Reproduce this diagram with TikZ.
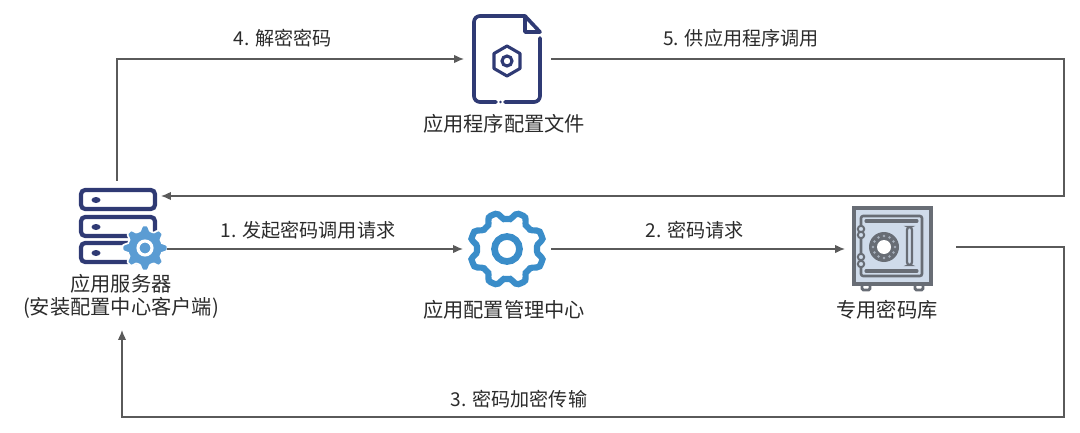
\documentclass[tikz,border=0pt]{standalone}
\usepackage{fontspec}
\setmainfont{Noto Sans CJK SC}
\usepackage{xcolor}
\usetikzlibrary{arrows.meta,calc}
\definecolor{navyicon}{HTML}{2F3A74}
\definecolor{bluecog}{HTML}{3A8DC9}
\definecolor{lightcog}{HTML}{5B9CD3}
\definecolor{safeline}{HTML}{686D75}
\definecolor{safefill}{HTML}{CFDBEA}
\definecolor{wireline}{HTML}{5A5A5A}
\definecolor{labeltext}{HTML}{2B2B2B}
\tikzset{
  wire/.style = {draw=wireline, line width=1pt, -{Latex[length=7pt,width=6pt]}},
  label/.style = {text=labeltext, font=\fontsize{13.6}{16}\selectfont, inner sep=0pt},
  caption/.style = {text=labeltext, font=\fontsize{14.4}{16.5}\selectfont, inner sep=0pt, align=center},
  iconbox/.style = {inner sep=0pt, draw=none},
  pics/bars/.style = {
    code = {
    \foreach \y in {0,27,53}{
      \draw[navyicon, line width=3pt, rounded corners=3pt] (0,\y) rectangle (74,\y+19);
      \fill[navyicon] (15,\y+10) ellipse (4.5 and 3);
    }
    }
  },
  pics/cog/.style = {
    code = {
    \draw[pic actions] plot[smooth cycle, domain=0:356, samples=90]
      (\x:{33.5+5.8*max(-.6,min(.6,cos(8*\x-180)))});
    }
  },
  pics/smallcog/.style = {
    code = {
    \filldraw[draw=white, fill=lightcog, line width=1.2pt] plot[smooth cycle, domain=0:356, samples=90]
      (\x:{20+4.2*max(-.6,min(.6,cos(8*(\x-90))))});
    \draw[white, line width=2.2pt] (0,0) circle (7);
    }
  }
}
\begin{document}
\begin{tikzpicture}[x=0.025cm,y=-0.025cm]
  \useasboundingbox (0,0) rectangle (1080,433);

  % server
  \node[iconbox, minimum width=2.35cm, minimum height=2.1cm] (server) at (117,223) {};
  \pic at (81,190) {bars};
  \pic at (145,248) {smallcog};
  \node[caption] (serverlabel) at (121,296) {应用服务器\\(安装配置中心客户端)};
  \coordinate (serverin) at (161,196);
  \coordinate (serverout) at (167,249);
  \coordinate (serverback) at (122,330);

  % file
  \node[iconbox, minimum width=1.65cm, minimum height=2.15cm] (file) at (507,59) {};
  \draw[navyicon, line width=2.6pt, line cap=round, line join=round]
    (496,102) -- (480,102) arc[start angle=90, end angle=180, radius=6] -- (474,22)
    arc[start angle=180, end angle=270, radius=6] -- (525,16) -- (540,32) -- (525,32) -- (525,16)
    (540,38) -- (540,96) arc[start angle=0, end angle=90, radius=6] -- (505,102);
  \fill[navyicon] (500.5,102) circle (1.4);
  \draw[navyicon, line width=2.2pt, line join=round]
    (507,46) -- (520,53.5) -- (520,68.5) -- (507,76) -- (494,68.5) -- (494,53.5) -- cycle;
  \draw[navyicon, line width=2.2pt] (507,61) circle (5);
  \node[caption] (filelabel) at (504,124) {应用程序配置文件};

  % config centre
  \node[iconbox, minimum width=2cm, minimum height=2cm] (centre) at (507,249) {};
  \pic[draw=bluecog, line width=4.4pt] at (507,249) {cog};
  \draw[bluecog, line width=4.8pt] (507,249) circle (12.5);
  \node[caption] (centrelabel) at (504,310) {应用配置管理中心};

  % vault
  \node[iconbox, minimum width=2.75cm, minimum height=2.05cm] (vault) at (900,249) {};
  \draw[safeline, line width=2pt, fill=white, rounded corners=1pt] (862,284) -- (862,290) -- (870,290) -- (870,284);
  \draw[safeline, line width=2pt, fill=white, rounded corners=1pt] (915,284) -- (915,290) -- (923,290) -- (923,284);
  \draw[safeline, line width=2.4pt, fill=safefill] (854,208) rectangle (931,284);
  \draw[safeline, line width=1.8pt, rounded corners=1.5pt] (861,216) rectangle (922,276);
  \draw[safeline, line width=2.2pt, line cap=round] (866,221) -- (917,221) (866,271) -- (917,271);
  \draw[safeline, line width=1.6pt, fill=safefill, rounded corners=2pt] (907,227) rectangle (912,265);
  \foreach \y in {229,235,257,264}{
    \draw[safeline, line width=1.4pt, fill=safefill] (861,\y) circle (3.2);
  }
  \fill[safeline] (884,247) circle (15);
  \foreach \a in {0,30,...,330}{
    \fill[safefill!60!safeline] (884,247) ++(\a:11) circle (1.3);
  }
  \fill[white] (884,247) circle (7);
  \node[caption] (vaultlabel) at (887,310) {专用密码库};

  % wires
  \coordinate (filein) at (464,59);
  \coordinate (centrein) at (463,249);
  \coordinate (centreout) at (551,249);
  \coordinate (fileout) at (551,59);
  \coordinate (vaultin) at (845,249);
  \coordinate (vaultout) at (956,247);
  \coordinate (farright) at (1064,59);
  \coordinate (farbottom) at (1064,417);

  \draw[wire] (server.north) |- (filein);
  \draw[wire] (fileout) -- (farright) -- (farright |- serverin) -- (serverin);
  \draw[wire] (serverout) -- (centrein);
  \draw[wire] (centreout) -- (vaultin);
  \draw[wire] (vaultout) -- (vaultout -| farbottom) -- (farbottom) -- (serverback |- farbottom) -- (serverback);

  \node[label] (steptwo) at (695,230) {2. 密码请求};
  \node[label] (stepone) at (308,230) {1. 发起密码调用请求};
  \node[label] (stepthree) at (519,399) {3. 密码加密传输};
  \node[label] (stepfour) at (283,38) {4. 解密密码};
  \node[label] (stepfive) at (741,38) {5. 供应用程序调用};
\end{tikzpicture}
\end{document}
